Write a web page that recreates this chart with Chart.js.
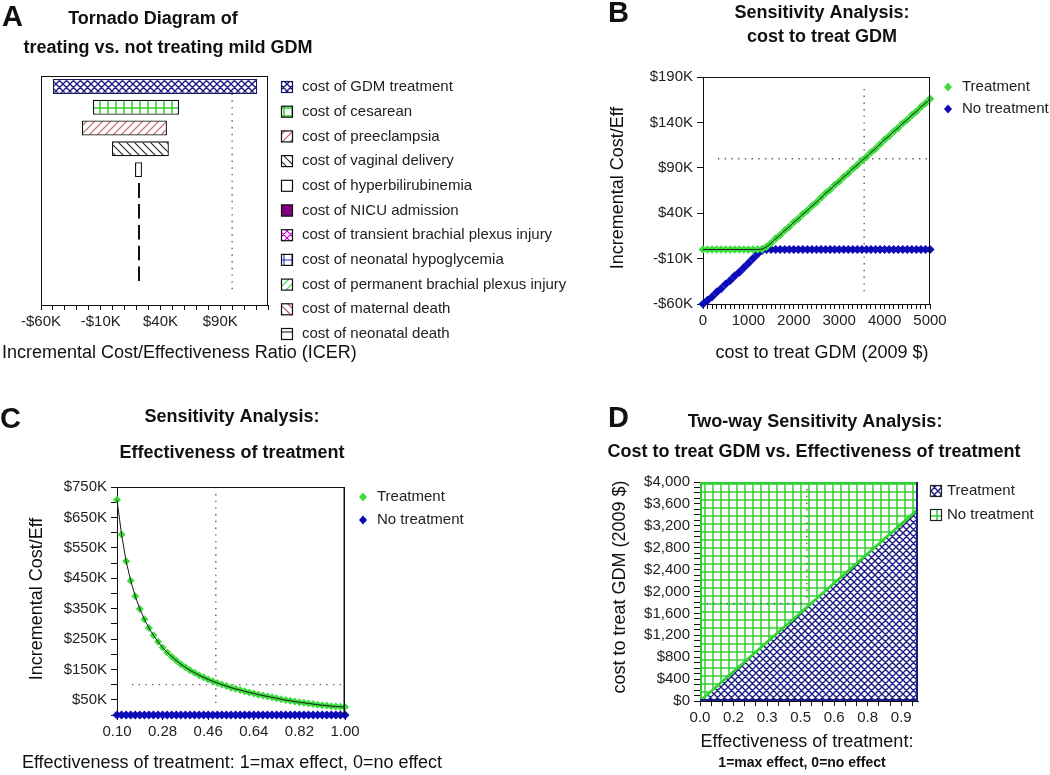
<!DOCTYPE html>
<html lang="en">
<head>
<meta charset="UTF-8">
<title>Mild GDM treatment - sensitivity analyses</title>
<script src="https://cdn.jsdelivr.net/npm/chart.js"></script>
<style>
    body { margin: 0; background: #fff; }
    .page { position: relative; width: 1050px; height: 775px; overflow: hidden; background: #fff; }
    .page canvas { position: absolute; }
</style>
</head>
<body>
<div class="page">
    <canvas id="chartA" width="590" height="380" style="left:0;top:0"></canvas>
    <canvas id="chartB" width="460" height="380" style="left:590px;top:0"></canvas>
    <canvas id="chartC" width="525" height="375" style="left:0;top:400px"></canvas>
    <canvas id="chartD" width="525" height="375" style="left:525px;top:400px"></canvas>
</div>
<script>
// ---- A: tornado diagram (ICER, $K) ----
const tornadoLabels = [
    'cost of GDM treatment', 'cost of cesarean', 'cost of preeclampsia', 'cost of vaginal delivery',
    'cost of hyperbilirubinemia', 'cost of NICU admission', 'cost of transient brachial plexus injury',
    'cost of neonatal hypoglycemia', 'cost of permanent brachial plexus injury', 'cost of maternal death',
    'cost of neonatal death'
];
const tornadoLow  = [-50, -16.5, -25.7, -0.6, 18.7, 21.1, 21.1, 21.1, 21.1, 21.1, 22];
const tornadoHigh = [121, 55.5, 45.4, 47, 24.5, 22.9, 22.9, 22.9, 22.9, 22.9, 22];
const tornadoTickLabels = [-60, -10, 40, 90];
const icerThreshold = 100;

// ---- B: cost to treat GDM ($) vs ICER ($K) ----
const costB = [0, 100, 200, 300, 400, 500, 600, 700, 800, 900, 1000, 1100, 1200, 1300, 1400, 1500, 1600,
    1700, 1800, 1900, 2000, 2100, 2200, 2300, 2400, 2500, 2600, 2700, 2800, 2900, 3000, 3100, 3200, 3300,
    3400, 3500, 3600, 3700, 3800, 3900, 4000, 4100, 4200, 4300, 4400, 4500, 4600, 4700, 4800, 4900, 5000];
const treatB = [0, 0, 0, 0, 0, 0, 0, 0, 0, 0, 0, 0, 0, 0.4, 3, 7, 12, 16, 21, 25, 30, 34, 39, 43, 48, 52,
    57, 62, 66, 71, 75, 80, 84, 89, 93, 98, 102, 107, 111, 116, 121, 125, 130, 134, 139, 143, 148, 152,
    157, 161, 166];
const noTreatB = [-60, -56, -52, -47, -43, -38, -34, -29, -25, -20, -15, -10, -5, -1, 0, 0, 0, 0, 0, 0, 0,
    0, 0, 0, 0, 0, 0, 0, 0, 0, 0, 0, 0, 0, 0, 0, 0, 0, 0, 0, 0, 0, 0, 0, 0, 0, 0, 0, 0, 0, 0];
const yTicksB = [-60, -10, 40, 90, 140, 190];
const xLabelsB = [0, 1000, 2000, 3000, 4000, 5000];
const thresholdCostB = 3550;

// ---- C: effectiveness of treatment vs ICER ($K) ----
const effC = [0.100, 0.118, 0.136, 0.154, 0.172, 0.190, 0.208, 0.226, 0.244, 0.262, 0.280, 0.298, 0.316,
    0.334, 0.352, 0.370, 0.388, 0.406, 0.424, 0.442, 0.460, 0.478, 0.496, 0.514, 0.532, 0.550, 0.568, 0.586,
    0.604, 0.622, 0.640, 0.658, 0.676, 0.694, 0.712, 0.730, 0.748, 0.766, 0.784, 0.802, 0.820, 0.838, 0.856,
    0.874, 0.892, 0.910, 0.928, 0.946, 0.964, 0.982, 1.000];
const treatC = [708, 594, 506, 442, 391, 349, 315, 286, 262, 241, 222, 206, 192, 179, 167, 157, 147, 139,
    131, 124, 117, 111, 105, 100, 95, 90, 86, 82, 78, 74, 71, 67, 64, 61, 58, 55, 52, 49, 47, 44, 42, 40,
    38, 36, 34, 32, 31, 29, 28, 27, 26];
const noTreatC = [0, 0, 0, 0, 0, 0, 0, 0, 0, 0, 0, 0, 0, 0, 0, 0, 0, 0, 0, 0, 0, 0, 0, 0, 0, 0, 0, 0, 0,
    0, 0, 0, 0, 0, 0, 0, 0, 0, 0, 0, 0, 0, 0, 0, 0, 0, 0, 0, 0, 0, 0];
const xTicksC = [0.10, 0.28, 0.46, 0.64, 0.82, 1.00];
const yLabelsC = [50, 150, 250, 350, 450, 550, 650, 750];
const thresholdEffC = 0.49;

// ---- D: two-way sensitivity (effectiveness x cost) ----
const effD = [0, 0.5, 1.0];
const boundaryCostD = [0, 1750, 3500];
const xLabelsD = [0, 0.154, 0.308, 0.462, 0.615, 0.769, 0.923];
const yLabelsD = [0, 400, 800, 1200, 1600, 2000, 2400, 2800, 3200, 3600, 4000];
const baseEffD = 0.49;
const baseCostD = 1780;

// ---------------------------------------------------------------
const FONT = "'Liberation Sans', Arial, sans-serif";
Chart.defaults.font.family = FONT;
Chart.defaults.color = '#222';
Chart.defaults.animation = false;
Chart.defaults.responsive = false;
Chart.defaults.events = [];
Chart.defaults.plugins.legend.display = false;
Chart.defaults.plugins.tooltip.enabled = false;

const GREEN = '#3bdc3b';
const BLUE = '#0b0bb8';
const NAVY = '#1c1c84';

function hatch(kind, color, size, width) {
    const c = document.createElement('canvas');
    c.width = size; c.height = size;
    const g = c.getContext('2d');
    g.fillStyle = '#fff';
    g.fillRect(0, 0, size, size);
    g.strokeStyle = color;
    g.lineWidth = width;
    g.beginPath();
    const h = size / 2;
    if (kind === 'grid' || kind === 'hline') { g.moveTo(0, h); g.lineTo(size, h); }
    if (kind === 'grid') { g.moveTo(h, 0); g.lineTo(h, size); }
    for (const k of [-1, 0, 1]) {
        if (kind === 'fwd' || kind === 'cross') { g.moveTo(k * size - 1, size + 1); g.lineTo(k * size + size + 1, -1); }
        if (kind === 'back' || kind === 'cross') { g.moveTo(k * size - 1, -1); g.lineTo(k * size + size + 1, size + 1); }
    }
    g.stroke();
    return g.createPattern(c, 'repeat');
}

const navyHatch = hatch('cross', NAVY, 7, 1.4);
const greenGrid = hatch('grid', '#33cf33', 8, 1.5);
const tornadoFills = [
    navyHatch, greenGrid, hatch('fwd', '#c05a5a', 8, 1.1), hatch('back', '#222', 8, 1.1), '#fff', '#800080',
    hatch('cross', '#d000d0', 7, 1.1), hatch('grid', '#2828c8', 8, 1.1), hatch('fwd', '#3ccf3c', 8, 1.1),
    hatch('back', '#b04848', 8, 1.1), hatch('hline', '#222', 8, 1.1)
];
const tornadoBorders = tornadoLabels.map((_, i) => i === 0 ? '#18185a' : '#111');

function tickList(min, max, step) {
    const out = [];
    for (let v = min; v <= max + 1e-9; v += step) out.push(+v.toFixed(6));
    return out;
}
const has = (list, v, tol) => list.some(l => Math.abs(l - v) < (tol || 1e-6));
const kFmt = v => (v < 0 ? '-$' : '$') + Math.abs(v) + 'K';
const pts = (xs, ys) => xs.map((x, i) => ({ x: x, y: ys[i] }));

function linAxis(o) {
    return {
        type: 'linear', min: o.min, max: o.max,
        afterBuildTicks: s => { s.ticks = o.ticks.map(v => ({ value: v })); },
        afterFit: s => { if (o.width) s.width = o.width; if (o.height) s.height = o.height; },
        ticks: {
            autoSkip: false, maxRotation: 0, padding: o.pad || 3, color: '#222', font: { size: 15 },
            callback: v => has(o.labels, v, o.tol) ? o.fmt(v) : ''
        },
        grid: { drawOnChartArea: false, tickLength: o.tick || 5, color: '#111' },
        border: { color: '#111', width: 1 }
    };
}

function drawRefs(chart, lines) {
    if (!lines) return;
    const ctx = chart.ctx, xs = chart.scales.x, ys = chart.scales.y;
    ctx.save();
    ctx.strokeStyle = '#5e5e5e';
    ctx.lineWidth = 1.4;
    ctx.setLineDash([1.4, 5.3]);
    lines.forEach(l => {
        ctx.beginPath();
        ctx.moveTo(xs.getPixelForValue(l[0]), ys.getPixelForValue(l[1]));
        ctx.lineTo(xs.getPixelForValue(l[2]), ys.getPixelForValue(l[3]));
        ctx.stroke();
    });
    ctx.restore();
}

// frame, legend, titles and reference lines for one panel
function panel(cfg) {
    return {
        id: 'panel',
        beforeDatasetsDraw(chart) { if (!cfg.refsOnTop) drawRefs(chart, cfg.refs); },
        afterDatasetsDraw(chart) { if (cfg.refsOnTop) drawRefs(chart, cfg.refs); },
        afterDraw(chart) {
            const ctx = chart.ctx, a = chart.chartArea;
            ctx.save();
            (cfg.frame || []).forEach(f => {
                const w = f.width || 1, o = w / 2;
                ctx.strokeStyle = f.color;
                ctx.lineWidth = w;
                ctx.beginPath();
                if (f.side === 'top') { ctx.moveTo(a.left, a.top + o); ctx.lineTo(a.right, a.top + o); }
                if (f.side === 'right') { ctx.moveTo(a.right - o, a.top); ctx.lineTo(a.right - o, a.bottom); }
                if (f.side === 'bottom') { ctx.moveTo(a.left, a.bottom - o); ctx.lineTo(a.right, a.bottom - o); }
                if (f.side === 'left') { ctx.moveTo(a.left + o, a.top); ctx.lineTo(a.left + o, a.bottom); }
                ctx.stroke();
            });
            const lg = cfg.legend;
            if (lg) {
                ctx.font = lg.font + ' ' + FONT;
                ctx.textBaseline = 'middle';
                ctx.textAlign = 'left';
                lg.items.forEach((it, i) => {
                    const y = lg.y + i * lg.gap;
                    if (it.marker === 'diamond') {
                        ctx.fillStyle = it.fill;
                        ctx.beginPath();
                        ctx.moveTo(lg.x, y - 4.5); ctx.lineTo(lg.x + 4, y);
                        ctx.lineTo(lg.x, y + 4.5); ctx.lineTo(lg.x - 4, y);
                        ctx.closePath();
                        ctx.fill();
                    } else {
                        ctx.fillStyle = it.fill;
                        ctx.fillRect(lg.x, y - 6, 12, 12);
                        ctx.strokeStyle = it.stroke;
                        ctx.lineWidth = 1.2;
                        ctx.strokeRect(lg.x + 0.5, y - 5.5, 11, 11);
                    }
                    ctx.fillStyle = '#222';
                    ctx.fillText(it.label, lg.textX, y);
                });
            }
            (cfg.texts || []).forEach(t => {
                ctx.save();
                ctx.font = t.font + ' ' + FONT;
                ctx.fillStyle = '#111';
                ctx.textAlign = t.align || 'center';
                ctx.textBaseline = 'middle';
                ctx.translate(t.x, t.y);
                if (t.rotate) ctx.rotate(-Math.PI / 2);
                ctx.fillText(t.text, 0, 0);
                ctx.restore();
            });
            ctx.restore();
        }
    };
}

// ---- Chart A ----
new Chart(document.getElementById('chartA'), {
    type: 'bar',
    data: {
        labels: tornadoLabels,
        datasets: [{
            data: tornadoLabels.map((_, i) => [tornadoLow[i], tornadoHigh[i]]),
            backgroundColor: tornadoFills,
            borderColor: tornadoBorders,
            borderWidth: 1.3,
            borderSkipped: false,
            barPercentage: 0.72,
            categoryPercentage: 1
        }]
    },
    options: {
        indexAxis: 'y',
        layout: { padding: { left: 0, right: 322, top: 76, bottom: 45 } },
        scales: {
            x: linAxis({ min: -60, max: 130, ticks: tickList(-60, 130, 10), labels: tornadoTickLabels, fmt: kFmt, height: 30 }),
            y: {
                ticks: { display: false },
                grid: { display: false },
                border: { color: '#111' },
                afterFit: s => { s.width = 41; }
            }
        }
    },
    plugins: [panel({
        refs: [[icerThreshold, -0.3, icerThreshold, 9.9]],
        frame: [{ side: 'top', color: '#111' }, { side: 'right', color: '#111' }],
        legend: {
            x: 281, textX: 302, y: 87, gap: 24.7, font: '15px',
            items: tornadoLabels.map((l, i) => ({ label: l, fill: tornadoFills[i], stroke: tornadoBorders[i] }))
        },
        texts: [
            { text: 'A', x: 2, y: 18, font: 'bold 29px', align: 'left' },
            { text: 'Tornado Diagram of', x: 153, y: 19, font: 'bold 18px' },
            { text: 'treating vs. not treating mild GDM', x: 168, y: 48, font: 'bold 18px' },
            { text: 'Incremental Cost/Effectiveness Ratio (ICER)', x: 2, y: 353, font: '18px', align: 'left' }
        ]
    })]
});

// ---- Chart B ----
new Chart(document.getElementById('chartB'), {
    type: 'scatter',
    data: {
        datasets: [
            { data: pts(costB, treatB), showLine: true, borderColor: '#1a1a1a', borderWidth: 1, pointRadius: 0, order: 0, clip: 6 },
            { data: pts(costB, treatB), pointStyle: 'rectRot', pointRadius: 4.3, backgroundColor: GREEN, borderWidth: 0, order: 1, clip: 6 },
            { data: pts(costB, noTreatB), pointStyle: 'rectRot', pointRadius: 4.6, backgroundColor: BLUE, borderWidth: 0, order: 2, clip: 6 }
        ]
    },
    options: {
        layout: { padding: { left: 0, right: 120, top: 77, bottom: 46 } },
        scales: {
            x: linAxis({ min: 0, max: 5000, ticks: tickList(0, 5000, 100), labels: xLabelsB, fmt: v => String(v), height: 30 }),
            y: linAxis({ min: -60, max: 190, ticks: yTicksB, labels: yTicksB, fmt: kFmt, width: 113, tick: 6, pad: 4 })
        }
    },
    plugins: [panel({
        refs: [[thresholdCostB, -46, thresholdCostB, 180], [330, icerThreshold, 4950, icerThreshold]],
        frame: [{ side: 'top', color: '#111' }, { side: 'right', color: '#111' }],
        legend: {
            x: 358, textX: 372, y: 87, gap: 22, font: '15px',
            items: [{ label: 'Treatment', marker: 'diamond', fill: GREEN }, { label: 'No treatment', marker: 'diamond', fill: BLUE }]
        },
        texts: [
            { text: 'B', x: 18, y: 14, font: 'bold 29px', align: 'left' },
            { text: 'Sensitivity Analysis:', x: 232, y: 13, font: 'bold 18px' },
            { text: 'cost to treat GDM', x: 232, y: 37, font: 'bold 18px' },
            { text: 'Incremental Cost/Eff', x: 28, y: 188, font: '18px', rotate: true },
            { text: 'cost to treat GDM (2009 $)', x: 232, y: 353, font: '18px' }
        ]
    })]
});

// ---- Chart C ----
new Chart(document.getElementById('chartC'), {
    type: 'scatter',
    data: {
        datasets: [
            { data: pts(effC, treatC), showLine: true, borderColor: '#1a1a1a', borderWidth: 1, pointRadius: 0, order: 0, clip: 6 },
            { data: pts(effC, treatC), pointStyle: 'rectRot', pointRadius: 4, backgroundColor: GREEN, borderWidth: 0, order: 1, clip: 6 },
            { data: pts(effC, noTreatC), pointStyle: 'rectRot', pointRadius: 4.6, backgroundColor: BLUE, borderWidth: 0, order: 2, clip: 6 }
        ]
    },
    options: {
        layout: { padding: { left: 0, right: 180, top: 87, bottom: 32 } },
        scales: {
            x: linAxis({ min: 0.1, max: 1.0, ticks: xTicksC, labels: xTicksC, fmt: v => v.toFixed(2), height: 28 }),
            y: linAxis({ min: 0, max: 750, ticks: tickList(0, 750, 50), labels: yLabelsC, fmt: kFmt, width: 117, tick: 6, pad: 4 })
        }
    },
    plugins: [panel({
        refs: [[thresholdEffC, 727, thresholdEffC, 33], [0.159, icerThreshold, 0.99, icerThreshold]],
        frame: [{ side: 'top', color: '#111' }, { side: 'right', color: '#111', width: 1.5 }],
        legend: {
            x: 363, textX: 377, y: 97, gap: 23, font: '15px',
            items: [{ label: 'Treatment', marker: 'diamond', fill: GREEN }, { label: 'No treatment', marker: 'diamond', fill: BLUE }]
        },
        texts: [
            { text: 'C', x: 0, y: 20, font: 'bold 29px', align: 'left' },
            { text: 'Sensitivity Analysis:', x: 232, y: 17, font: 'bold 18px' },
            { text: 'Effectiveness of treatment', x: 232, y: 53, font: 'bold 18px' },
            { text: 'Incremental Cost/Eff', x: 37, y: 199, font: '18px', rotate: true },
            { text: 'Effectiveness of treatment: 1=max effect, 0=no effect', x: 232, y: 363, font: '18px' }
        ]
    })]
});

// ---- Chart D ----
new Chart(document.getElementById('chartD'), {
    type: 'scatter',
    data: {
        datasets: [
            { data: pts(effD, boundaryCostD), showLine: true, fill: 'start', backgroundColor: navyHatch, borderWidth: 0, pointRadius: 0, order: 2 },
            { data: pts(effD, boundaryCostD), showLine: true, fill: 'end', backgroundColor: greenGrid, borderColor: '#2fd62f', borderWidth: 2.8, pointRadius: 0, order: 1 }
        ]
    },
    options: {
        layout: { padding: { left: 0, right: 132, top: 82, bottom: 44 } },
        scales: {
            x: linAxis({ min: 0, max: 1, ticks: tickList(0, 1, 2 / 39), labels: xLabelsD, tol: 2e-3, fmt: v => v.toFixed(1), height: 30 }),
            y: linAxis({ min: 0, max: 4000, ticks: tickList(0, 4000, 100), labels: yLabelsD, fmt: v => '$' + v.toLocaleString('en-US'), width: 175, tick: 6, pad: 4 })
        }
    },
    plugins: [panel({
        refsOnTop: true,
        refs: [[baseEffD, 3870, baseEffD, baseCostD], [0.03, baseCostD, baseEffD, baseCostD]],
        frame: [
            { side: 'top', color: '#2fcf2f', width: 2 }, { side: 'left', color: '#2fcf2f', width: 2 },
            { side: 'right', color: NAVY, width: 2 }, { side: 'bottom', color: NAVY, width: 2 }
        ],
        legend: {
            x: 405, textX: 422, y: 91, gap: 24, font: '15px',
            items: [{ label: 'Treatment', fill: navyHatch, stroke: '#222' }, { label: 'No treatment', fill: greenGrid, stroke: '#222' }]
        },
        texts: [
            { text: 'D', x: 83, y: 19, font: 'bold 29px', align: 'left' },
            { text: 'Two-way Sensitivity Analysis:', x: 290, y: 22, font: 'bold 18px' },
            { text: 'Cost to treat GDM vs. Effectiveness of treatment', x: 289, y: 52, font: 'bold 18px' },
            { text: 'cost to treat GDM (2009 $)', x: 95, y: 187, font: '18px', rotate: true },
            { text: 'Effectiveness of treatment:', x: 282, y: 342, font: '18px' },
            { text: '1=max effect, 0=no effect', x: 277, y: 363, font: 'bold 14px' }
        ]
    })]
});
</script>
</body>
</html>
